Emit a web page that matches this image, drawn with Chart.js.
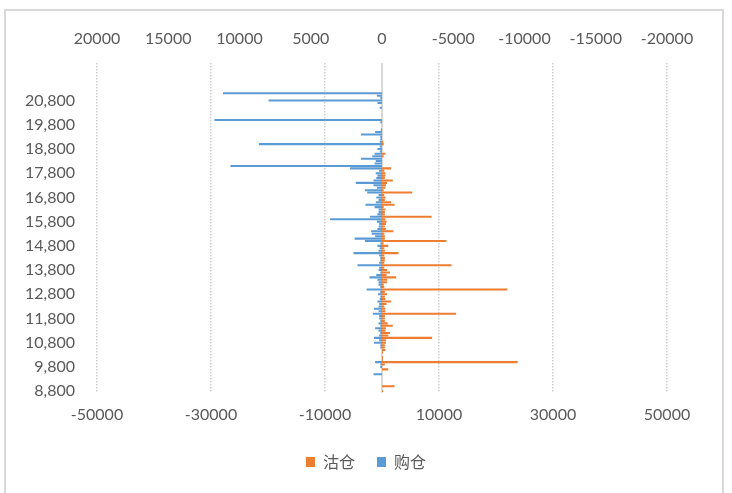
<!DOCTYPE html>
<html>
<head>
<meta charset="utf-8">
<script src="https://cdn.jsdelivr.net/npm/chart.js@4.4.1/dist/chart.umd.min.js"></script>
<style>
  html, body { margin: 0; padding: 0; background: #fff; }
  #wrap { position: relative; width: 732px; height: 493px; }
  #frame { position: absolute; left: 4px; top: 9px; width: 716px; height: 500px;
           border: 2px solid #d9d9d9; pointer-events: none; }
</style>
</head>
<body>
<div id="wrap">
  <canvas id="myChart" width="732" height="493"></canvas>
  <div id="frame"></div>
</div>
<script>
// strikes with data, top of the chart first (21,100 down to 8,800, step 100)
const firstStrike = 21100;
const lastStrike = 8800;
// empty rows above the data
const topStrike = 22300;

// 购仓 (blue), same order as the strikes
const buyData = [
  -27900, -900, -300, -19900, -800, 0, -400, 0, 0, 0,
  0, -29400, -300, 0, 0, -200, -1200, -3700, -300, -300,
  -400, -21600, -400, -800, -400, -1300, -1700, -3700, -1100, -1300,
  -26600, -5600, -500, -1100, -800, -1000, -1500, -4600, -1500, -900,
  -3000, -2600, -600, -1000, -600, -1100, -2900, -1300, -600, -600,
  -800, -2100, -9100, -900, -500, -600, -800, -1900, -1800, -1200,
  -4800, -3000, -300, -800, -400, -600, -5000, -500, -300, -300,
  -500, -4300, -500, -600, -300, -1000, -2200, -800, -600, -600,
  -300, -2700, -300, -700, -300, -400, -800, -500, -600, -1400,
  -600, -1600, -500, -500, -300, -600, -300, -1200, -600, -300,
  -500, -1400, -500, -1400, -300, -300, 0, 0, 0, 0,
  0, -1200, -300, -300, 0, 0, -1500, 0, 0, 0,
  0, 0, 0, 0
];

// 沽仓 (orange)
const sellData = [
  0, 0, 0, 0, 0, 0, 0, 0, 0, 0,
  0, 0, 0, 0, 0, 0, 0, 0, 0, 0,
  200, 300, 0, 0, 0, 600, 300, 0, 0, 0,
  0, 1600, 400, 600, 600, 500, 1900, 900, 700, 600,
  300, 5300, 400, 600, 500, 1600, 2200, 300, 600, 500,
  500, 8700, 600, 800, 700, 500, 700, 2000, 400, 500,
  500, 11300, 300, 1100, 400, 500, 2900, 400, 500, 500,
  400, 12200, 400, 900, 1400, 800, 2500, 900, 900, 300,
  400, 22000, 500, 900, 500, 600, 1600, 800, 400, 600,
  600, 13000, 500, 500, 500, 1000, 1900, 700, 600, 1400,
  1100, 8800, 700, 700, 500, 500, 600, 200, 0, 200,
  200, 23800, 500, 0, 1100, 0, 0, 0, 0, 0,
  0, 2200, 0, 200
];

const yTickLabels = ['20,800', '19,800', '18,800', '17,800', '16,800', '15,800', '14,800',
  '13,800', '12,800', '11,800', '10,800', '9,800', '8,800'];
const bottomTicks = [-50000, -30000, -10000, 10000, 30000, 50000];
const topTicks = [20000, 15000, 10000, 5000, 0, -5000, -10000, -15000, -20000];

const fmt = v => v.toLocaleString('en-US');

const allLabels = [];
for (let s = topStrike; s >= lastStrike; s -= 100) allLabels.push(fmt(s));

const dataStrikes = [];
for (let s = firstStrike; s >= lastStrike; s -= 100) dataStrikes.push(fmt(s));

Chart.defaults.font.family = 'Lato';
Chart.defaults.font.size = 16;
Chart.defaults.color = '#595959';

const ctx = document.getElementById('myChart').getContext('2d');
const myChart = new Chart(ctx, {
  type: 'bar',
  data: {
    labels: allLabels,
    datasets: [{
      label: '沽仓',
      data: dataStrikes.map((s, i) => ({ y: s, x: sellData[i] })),
      backgroundColor: '#ED7D31',
      borderWidth: 0,
      grouped: false,
      categoryPercentage: 1,
      barPercentage: 0.85
    }, {
      label: '购仓',
      data: dataStrikes.map((s, i) => ({ y: s, x: buyData[i] })),
      backgroundColor: '#5B9BD5',
      borderWidth: 0,
      grouped: false,
      categoryPercentage: 1,
      barPercentage: 0.85
    }]
  },
  options: {
    indexAxis: 'y',
    responsive: false,
    animation: false,
    layout: { padding: { left: 0, right: 0, top: 0, bottom: 13 } },
    plugins: {
      tooltip: { enabled: false },
      legend: {
        position: 'bottom',
        labels: {
          boxWidth: 9,
          boxHeight: 10,
          padding: 22,
          font: { family: 'Noto Sans CJK SC', size: 16 }
        }
      }
    },
    scales: {
      x: {
        type: 'linear',
        position: 'bottom',
        min: -50000,
        max: 50000,
        afterBuildTicks: s => { s.ticks = bottomTicks.map(v => ({ value: v })); },
        afterFit: s => { s.height = 39.6; },
        ticks: { padding: 13, maxRotation: 0, callback: v => String(v) },
        grid: { color: '#d0d0d0', lineWidth: 1.5, drawTicks: false },
        border: { display: false, dash: [1.5, 1.5] }
      },
      x2: {
        type: 'linear',
        position: 'top',
        reverse: true,
        min: -20000,
        max: 20000,
        afterBuildTicks: s => { s.ticks = topTicks.map(v => ({ value: v })); },
        afterFit: s => { s.height = 63; },
        ticks: { padding: 15, maxRotation: 0, callback: v => String(v) },
        grid: {
          drawTicks: false,
          lineWidth: 2,
          color: c => (c.tick && c.tick.value === 0 ? '#d9d9d9' : 'rgba(0,0,0,0)')
        },
        border: { display: false }
      },
      y: {
        type: 'category',
        afterFit: s => { s.width = 97; },
        grid: { display: false, drawTicks: false },
        border: { display: false },
        ticks: {
          autoSkip: false,
          padding: 22,
          callback: function (v) {
            const lab = this.getLabelForValue(v);
            return yTickLabels.includes(lab) ? lab : '';
          }
        }
      },
      // empty right-hand strip so the legend centres on the whole canvas
      yRight: {
        type: 'linear',
        position: 'right',
        afterFit: s => { s.width = 65; },
        ticks: { display: false },
        grid: { display: false, drawTicks: false },
        border: { display: false }
      }
    }
  }
});
</script>
</body>
</html>
